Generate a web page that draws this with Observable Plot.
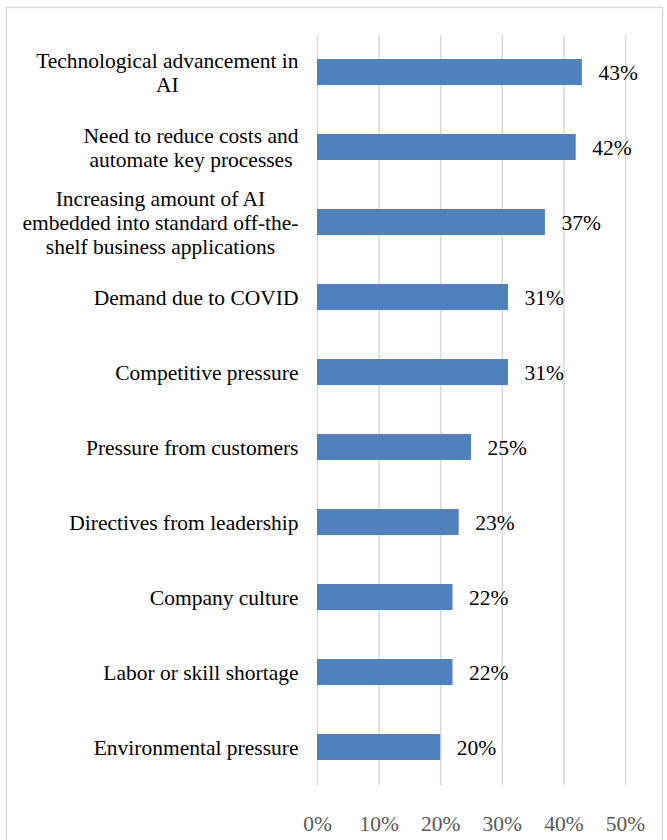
<!DOCTYPE html>
<html>
<head>
<meta charset="utf-8">
<script src="https://cdn.jsdelivr.net/npm/d3@7"></script>
<script src="https://cdn.jsdelivr.net/npm/@observablehq/plot@0.6"></script>
<style>
  html, body { margin: 0; padding: 0; background: white; }
  #chart { width: 667px; height: 840px; overflow: hidden; }
</style>
</head>
<body>
<div id="chart"></div>
<script>
const categories = [
  "Technological advancement in\nAI",
  "Need to reduce costs and\nautomate key processes",
  "Increasing amount of AI\nembedded into standard off-the-\nshelf business applications",
  "Demand due to COVID",
  "Competitive pressure",
  "Pressure from customers",
  "Directives from leadership",
  "Company culture",
  "Labor or skill shortage",
  "Environmental pressure"
];
const values = [0.43, 0.42, 0.37, 0.31, 0.31, 0.25, 0.23, 0.22, 0.22, 0.20];
const xTicks = [0, 0.1, 0.2, 0.3, 0.4, 0.5];

const data = categories.map((c, i) => ({category: c, value: values[i]}));
const pct = d3.format(".0%");
const font = "'Liberation Serif', 'Times New Roman', serif";

const chart = Plot.plot({
  width: 667,
  height: 840,
  marginLeft: 317,
  marginRight: 42,
  marginTop: 35,
  marginBottom: 55,
  style: {fontFamily: font, fontSize: "21.5px", background: "white", overflow: "visible"},
  x: {domain: [0, 0.5]},
  y: {domain: categories, paddingInner: 0.648, paddingOuter: 0.324},
  marks: [
    Plot.frame({stroke: "#d9d9d9", strokeWidth: 1.5, insetLeft: -311, insetTop: -28, insetRight: -37, insetBottom: -80}),
    Plot.gridX(xTicks, {stroke: "#d9d9d9", strokeOpacity: 1, strokeWidth: 1.5}),
    Plot.barX(data, {y: "category", x: "value", fill: "#4F81BD"}),
    Plot.text(data, {y: "category", x: "value", text: d => pct(d.value), dx: 16, dy: 1, textAnchor: "start", fill: "black", fontSize: 21.5}),
    Plot.axisX(xTicks, {tickSize: 0, tickPadding: 30, tickFormat: pct, fill: "#595959", fontSize: 21.5, label: null}),
    Plot.axisY({tickSize: 0, tickPadding: 19, fontSize: 21.5, lineHeight: 1.1, fill: "black", label: null})
  ]
});
document.getElementById("chart").appendChild(chart);

// Center the lines of multi-line category labels within their right-aligned block
chart.querySelectorAll("g[aria-label='y-axis tick label'] text").forEach(t => {
  const spans = t.querySelectorAll("tspan");
  if (spans.length < 2) return;
  let w = 0;
  spans.forEach(s => { w = Math.max(w, s.getComputedTextLength()); });
  t.setAttribute("text-anchor", "middle");
  spans.forEach(s => s.setAttribute("x", -w / 2));
});
</script>
</body>
</html>
